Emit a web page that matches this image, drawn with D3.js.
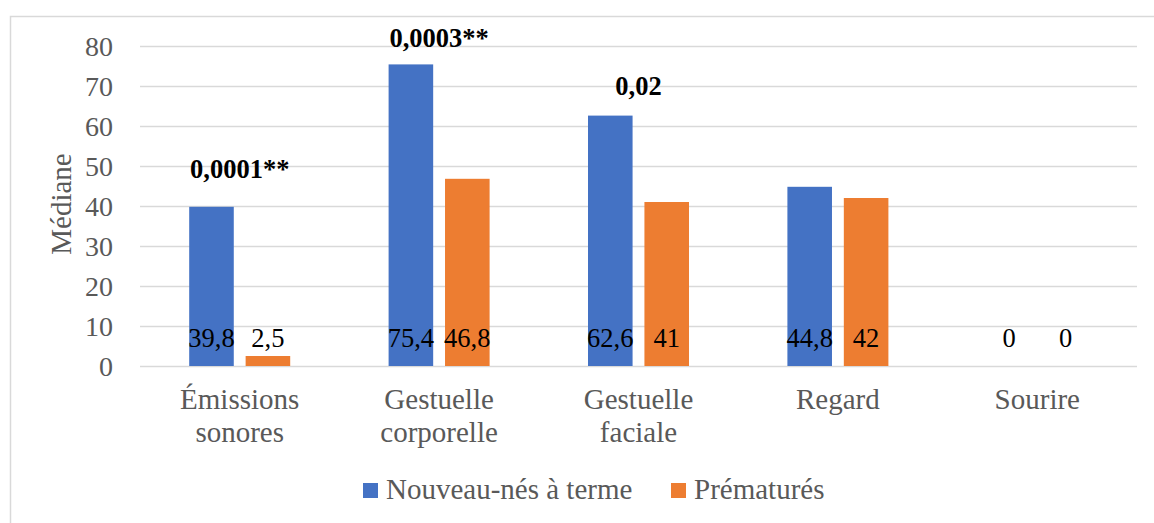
<!DOCTYPE html>
<html>
<head>
<meta charset="utf-8">
<script src="https://cdn.jsdelivr.net/npm/d3@7"></script>
</head>
<body style="margin:0; background:#fff">
<svg class="chart" width="1154" height="523"></svg>
<script>
const categories = [["Émissions", "sonores"], ["Gestuelle", "corporelle"], ["Gestuelle", "faciale"], ["Regard"], ["Sourire"]];
const seriesNames = ["Nouveau-nés à terme", "Prématurés"];
const aTerme = [39.8, 75.4, 62.6, 44.8, 0];
const prematures = [2.5, 46.8, 41, 42, 0];
const valueLabels = [["39,8", "2,5"], ["75,4", "46,8"], ["62,6", "41"], ["44,8", "42"], ["0", "0"]];
// p-values written above some groups, with the level they sit at
const pValues = ["0,0001**", "0,0003**", "0,02", "", ""];
const pLevels = [47, 79.8, 67.8, 0, 0];
const yTicks = [0, 10, 20, 30, 40, 50, 60, 70, 80];

const colors = ["#4472C4", "#ED7D31"];
const textGrey = "#595959";
const serif = "Liberation Serif";

const svg = d3.select(".chart");

// outer frame (only top and left show)
svg.append("path")
  .attr("d", "M10.5,523 V16.5 H1154")
  .attr("fill", "none")
  .attr("stroke", "#d9d9d9")
  .attr("stroke-width", 1.5);

const plotLeft = 140, plotRight = 1137, plotTop = 46, plotBottom = 366;

const catKeys = categories.map((c) => c.join(" "));
const x0 = d3.scaleBand().domain(catKeys).range([plotLeft, plotRight]);
const groupW = 101;
const x1 = d3.scaleBand().domain(seriesNames).range([0, groupW]).paddingInner(0.21);
const y = d3.scaleLinear().domain([0, 80]).range([plotBottom, plotTop]);

// gridlines
svg.append("g")
  .selectAll("line")
  .data(yTicks)
  .join("line")
  .attr("x1", plotLeft)
  .attr("x2", plotRight)
  .attr("y1", (d) => Math.round(y(d)) + 0.5)
  .attr("y2", (d) => Math.round(y(d)) + 0.5)
  .attr("stroke", "#d9d9d9")
  .attr("stroke-width", 1.5);

// y axis labels
const yAxis = d3.axisLeft(y).tickValues(yTicks).tickSize(0).tickPadding(0);
const gy = svg.append("g").attr("transform", `translate(113,0)`).call(yAxis);
gy.select(".domain").remove();
gy.selectAll("text")
  .attr("fill", textGrey)
  .attr("font-size", 28)
  .attr("dy", "0.34em");

svg.append("text")
  .attr("transform", "translate(71,204) rotate(-90)")
  .attr("text-anchor", "middle")
  .attr("fill", textGrey)
  .attr("font-size", 29)
  .text("Médiane");

const groupStart = (i) => x0(catKeys[i]) + (x0.bandwidth() - groupW) / 2;

const rows = [];
categories.forEach((c, i) => {
  rows.push({ i, s: 0, v: aTerme[i], label: valueLabels[i][0] });
  rows.push({ i, s: 1, v: prematures[i], label: valueLabels[i][1] });
});

// bars
svg.append("g")
  .selectAll("rect")
  .data(rows)
  .join("rect")
  .attr("x", (d) => groupStart(d.i) + x1(seriesNames[d.s]))
  .attr("y", (d) => y(d.v))
  .attr("width", x1.bandwidth())
  .attr("height", (d) => y(0) - y(d.v))
  .attr("fill", (d) => colors[d.s]);

// value labels at the base of bars
svg.append("g")
  .selectAll("text")
  .data(rows)
  .join("text")
  .attr("x", (d) => groupStart(d.i) + x1(seriesNames[d.s]) + x1.bandwidth() / 2)
  .attr("y", y(0) - 19)
  .attr("text-anchor", "middle")
  .attr("fill", "#000")
  .attr("font-size", 26.5)
  .text((d) => d.label);

// p-values
svg.append("g")
  .selectAll("text")
  .data(pValues.map((p, i) => ({ p, i })).filter((d) => d.p))
  .join("text")
  .attr("x", (d) => x0(catKeys[d.i]) + x0.bandwidth() / 2)
  .attr("y", (d) => y(pLevels[d.i]))
  .attr("text-anchor", "middle")
  .attr("fill", "#000")
  .attr("font-size", 26.5)
  .attr("font-weight", "bold")
  .text((d) => d.p);

// category labels
const cat = svg.append("g")
  .selectAll("text")
  .data(categories)
  .join("text")
  .attr("text-anchor", "middle")
  .attr("fill", textGrey)
  .attr("font-size", 29)
  .attr("x", (d, i) => x0(catKeys[i]) + x0.bandwidth() / 2)
  .attr("y", 409);
cat.selectAll("tspan")
  .data((d) => d)
  .join("tspan")
  .attr("x", function () { return this.parentNode.getAttribute("x"); })
  .attr("dy", (d, j) => (j === 0 ? 0 : 33))
  .text((d) => d);

// legend
const legend = svg.append("g");
const legendX = [363, 671];
seriesNames.forEach((name, i) => {
  legend.append("rect")
    .attr("x", legendX[i])
    .attr("y", 483)
    .attr("width", 15)
    .attr("height", 15)
    .attr("fill", colors[i]);
  legend.append("text")
    .attr("x", legendX[i] + 23)
    .attr("y", 499)
    .attr("fill", textGrey)
    .attr("font-size", 29)
    .text(name);
});

// Times-like face on every text
svg.selectAll("text, tspan").attr("font-family", serif).style("font-family", serif);
</script>
</body>
</html>
